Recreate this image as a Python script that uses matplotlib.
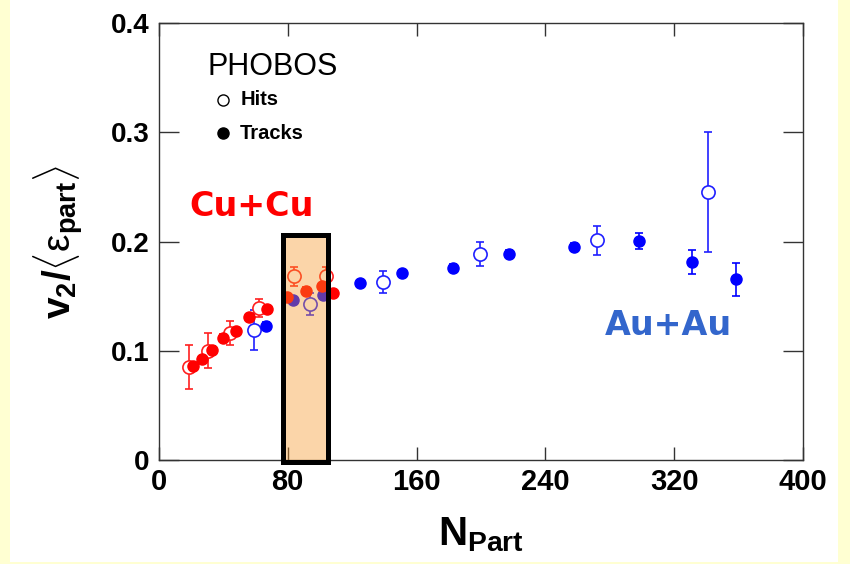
import matplotlib
matplotlib.use('Agg')
import matplotlib.pyplot as plt
from matplotlib.patches import Rectangle

plt.rcParams['font.family'] = ['Liberation Sans', 'DejaVu Sans']
plt.rcParams['mathtext.fontset'] = 'custom'
plt.rcParams['mathtext.rm'] = 'Liberation Sans'
plt.rcParams['mathtext.bf'] = 'Liberation Sans:bold'
plt.rcParams['mathtext.it'] = 'Liberation Sans:italic'

# Cu+Cu, hits (open) and tracks (filled)
cu_hits_x = [18.8, 30.7, 44.1, 62.3, 83.9, 104.0]
cu_hits_y = [0.085, 0.100, 0.116, 0.139, 0.168, 0.168]
cu_hits_err = [0.020, 0.016, 0.011, 0.008, 0.009, 0.009]

cu_tracks_x = [21.3, 26.5, 32.7, 40.0, 47.8, 56.1, 67.3, 79.7, 91.3, 101.0, 107.9]
cu_tracks_y = [0.086, 0.092, 0.101, 0.112, 0.118, 0.131, 0.138, 0.149, 0.155, 0.159, 0.153]
cu_tracks_err = [0.003] * 11

# Au+Au, hits (open) and tracks (filled)
au_hits_x = [59.2, 93.8, 138.9, 199.6, 271.9, 341.2]
au_hits_y = [0.119, 0.1425, 0.163, 0.1886, 0.201, 0.245]
au_hits_err = [0.018, 0.010, 0.010, 0.011, 0.0135, 0.055]

au_tracks_x = [66.5, 83.0, 102.0, 124.8, 150.7, 182.8, 217.4, 257.8, 298.1, 330.9, 358.4]
au_tracks_y = [0.123, 0.1465, 0.151, 0.162, 0.171, 0.176, 0.189, 0.195, 0.2005, 0.1815, 0.1654]
au_tracks_err = [0.003, 0.003, 0.003, 0.003, 0.003, 0.003, 0.003, 0.004, 0.0075, 0.011, 0.015]

x_ticks = [0, 80, 160, 240, 320, 400]
y_ticks = [0, 0.1, 0.2, 0.3, 0.4]
y_tick_labels = ['0', '0.1', '0.2', '0.3', '0.4']

fig = plt.figure(figsize=(8.5, 5.64), dpi=100)
fig.patch.set_facecolor('#FFFFD2')
fig.add_artist(Rectangle((10 / 850, 2 / 564), 828 / 850, 1, transform=fig.transFigure,
                         facecolor='white', edgecolor='none', zorder=-5))
ax = fig.add_axes([159 / 850, 104 / 564, 644 / 850, 437 / 564])

blue = '#0000FF'
red = '#FF0000'
ax.errorbar(au_hits_x, au_hits_y, yerr=au_hits_err, fmt='o', mfc='white', mec='#2020FF',
            ecolor='#2020FF', ms=9.5, mew=1.2, elinewidth=1.2, capsize=3, capthick=1.2, zorder=2)
ax.errorbar(au_tracks_x, au_tracks_y, yerr=au_tracks_err, fmt='o', mfc=blue, mec=blue,
            ecolor=blue, ms=8, elinewidth=1.2, capsize=3, capthick=1.2, zorder=2)
ax.errorbar(cu_hits_x, cu_hits_y, yerr=cu_hits_err, fmt='o', mfc='white', mec='#FF2020',
            ecolor='#FF2020', ms=9.5, mew=1.2, elinewidth=1.2, capsize=3, capthick=1.2, zorder=2)
ax.errorbar(cu_tracks_x, cu_tracks_y, yerr=cu_tracks_err, fmt='o', mfc=red, mec=red,
            ecolor=red, ms=8, elinewidth=1.2, capsize=3, capthick=1.2, zorder=2)

# highlighted overlap region
ax.add_patch(Rectangle((77.3, -0.002), 27.4, 0.208, facecolor=(0.97, 0.59, 0.16, 0.4),
                       edgecolor='black', linewidth=3.6, clip_on=False, zorder=3))

ax.set_xlim(0, 400)
ax.set_ylim(0, 0.4)
ax.set_xticks(x_ticks)
ax.set_xticklabels([str(t) for t in x_ticks])
ax.set_yticks(y_ticks)
ax.set_yticklabels(y_tick_labels)
ax.tick_params(axis='both', direction='in', top=True, right=True, color='#333333',
               labelsize=20, width=1)
ax.tick_params(axis='x', length=9.5, pad=6, labelsize=21)
ax.tick_params(axis='y', length=14.5, pad=7)
for lab in ax.get_xticklabels() + ax.get_yticklabels():
    lab.set_fontweight('bold')
for sp in ax.spines.values():
    sp.set_color('#333333')
    sp.set_linewidth(1)

ax.set_xlabel(r'$\mathbf{N_{Part}}$', fontsize=29, labelpad=14)
ax.set_ylabel(r'$\mathbf{v_2/}\langle\mathrm{\varepsilon}_{\mathbf{part}}\rangle$',
              fontsize=28, labelpad=18)

# legend box
ax.text(0.076, 0.899, 'PHOBOS', transform=ax.transAxes, fontsize=22, va='center', ha='left')
ax.plot([0.099], [0.824], 'o', transform=ax.transAxes, mfc='white', mec='black', ms=8, mew=1)
ax.plot([0.099], [0.748], 'o', transform=ax.transAxes, mfc='black', mec='black', ms=8)
ax.text(0.126, 0.824, 'Hits', transform=ax.transAxes, fontsize=14.5, fontweight='bold', va='center')
ax.text(0.126, 0.748, 'Tracks', transform=ax.transAxes, fontsize=14.5, fontweight='bold', va='center')

ax.text(0.047, 0.581, 'Cu+Cu', transform=ax.transAxes, color=red, fontsize=24,
        fontweight='bold', family='DejaVu Sans', va='center', ha='left')
ax.text(0.692, 0.307, 'Au+Au', transform=ax.transAxes, color='#3366CC', fontsize=24,
        fontweight='bold', family='DejaVu Sans', va='center', ha='left')

fig.savefig('out.png', dpi=100)
